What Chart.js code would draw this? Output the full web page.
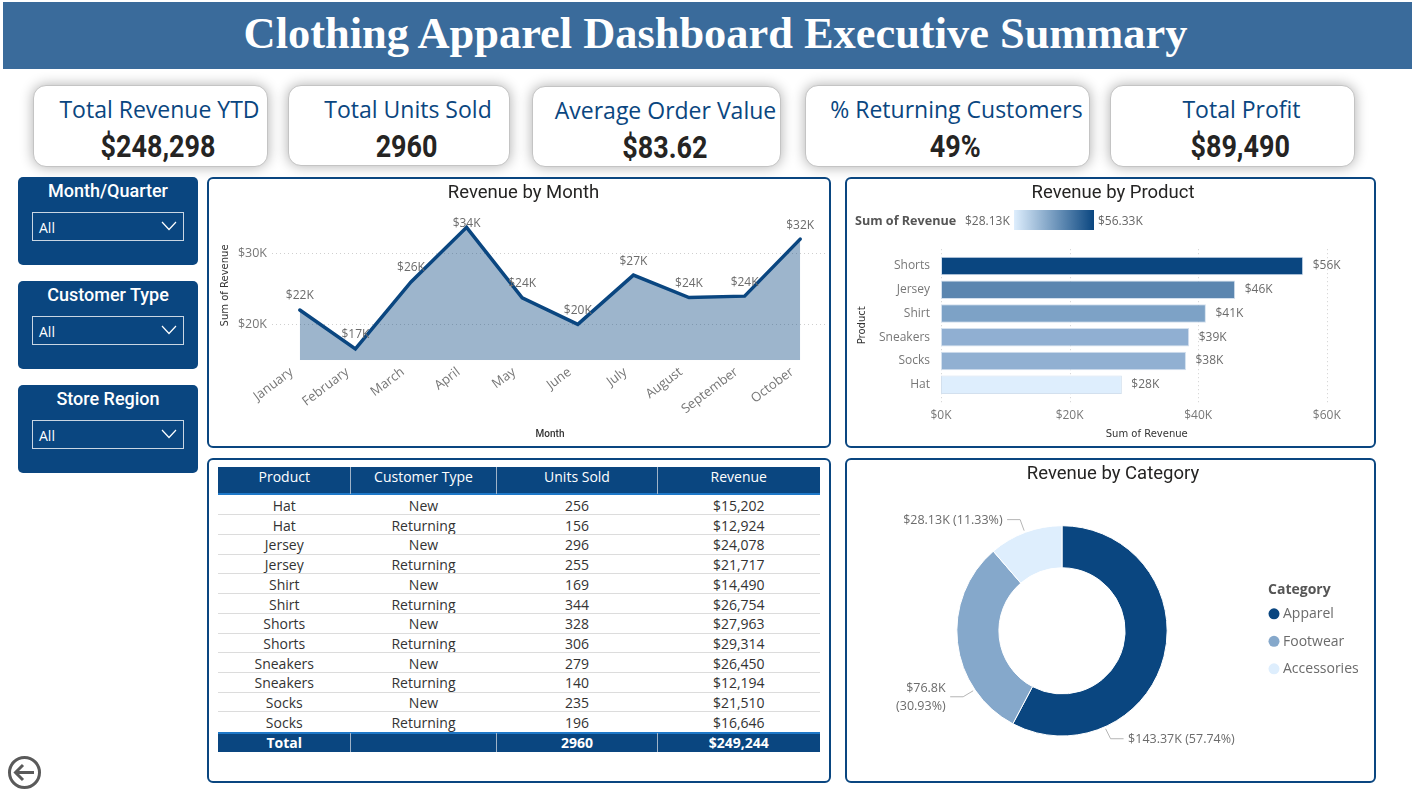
<!DOCTYPE html>
<html>
<head>
<meta charset="utf-8">
<script src="https://cdn.jsdelivr.net/npm/chart.js@4"></script>
<style>
html,body{margin:0;padding:0;background:#fff;width:1412px;height:802px;overflow:hidden}
body{position:relative;font-family:"Open Sans",sans-serif}
.abs{position:absolute;box-sizing:border-box}
#header{left:3px;top:2px;width:1409px;height:67px;background:#3A6B9B;color:#fff;font:bold 44.400px "Liberation Serif",serif;text-align:center;line-height:63px;padding-left:16px}
.kpi{background:#fff;border:1px solid #c4c4c4;border-radius:13px;box-shadow:0 0 13px rgba(0,0,0,.32);text-align:center}
.kpi .t{position:absolute;left:18px;right:0;top:8px;font:23px/30px "Open Sans",sans-serif;color:#0A4680;white-space:nowrap}
.kpi .v{position:absolute;left:16px;right:0;top:42px;font:bold 31px/38px Roboto,sans-serif;color:#252423}
.kpi .v span{display:inline-block;transform:scaleX(.87)}
.slicer{left:18px;width:180px;height:88px;background:#0A4680;border-radius:5px;color:#fff;text-align:center}
.slicer .t{position:absolute;left:0;right:0;top:3px;font:500 18px/22px Roboto,sans-serif}
.slicer .d{position:absolute;left:14px;top:35px;width:152px;height:29px;box-sizing:border-box;border:1px solid #C9D6E3;text-align:left;padding-left:6px;font:14px/29px "Open Sans",sans-serif}
.slicer svg{position:absolute;right:6px;top:7px}
.panel{background:#fff;border:2px solid #0A4680;border-radius:6px}
canvas{position:absolute;display:block}
.cell{position:absolute;text-align:center;font:14px/19.7px "Open Sans",sans-serif;color:#333;white-space:nowrap}
.legendText{position:absolute;font:12px/16px "Open Sans",sans-serif;color:#666;white-space:nowrap}
</style>
</head>
<body>
<div class="abs" id="header">Clothing Apparel Dashboard Executive Summary</div>
<div id="cards"></div>
<div id="slicers"></div>
<div class="abs panel" style="left:207px;top:177px;width:624px;height:271px"></div>
<div class="abs panel" style="left:845px;top:177px;width:531px;height:271px"></div>
<div class="abs panel" style="left:207px;top:458px;width:624px;height:325px"></div>
<div class="abs panel" style="left:845px;top:458px;width:531px;height:325px"></div>
<canvas id="monthChart" width="624" height="271" style="left:207px;top:177px"></canvas>
<canvas id="productChart" width="531" height="271" style="left:845px;top:177px"></canvas>
<canvas id="categoryChart" width="531" height="325" style="left:845px;top:458px"></canvas>
<div class="legendText" style="left:855px;top:213px;font-weight:bold;color:#555;font-size:12.600px">Sum of Revenue</div>
<div class="legendText" style="left:965px;top:213px">$28.13K</div>
<div class="abs" style="left:1014px;top:210px;width:80px;height:20px;background:linear-gradient(90deg,#DEEEFD,#0A4680)"></div>
<div class="legendText" style="left:1098px;top:213px">$56.33K</div>
<div id="table"></div>
<svg class="abs" style="left:7px;top:755px" width="36" height="36" viewBox="0 0 36 36" fill="none" stroke="#5a5a5a" stroke-width="3"><circle cx="17.5" cy="17.5" r="15"/><path d="M27 17.5H9M16 10l-7.500 7.500 7.500 7.500"/></svg>

<script>
const dark = '#0A4680';

const kpiTitles = ['Total Revenue YTD','Total Units Sold','Average Order Value','% Returning Customers','Total Profit'];
const kpiValues = ['$248,298','2960','$83.62','49%','$89,490'];
const slicerTitles = ['Month/Quarter','Customer Type','Store Region'];

const months = ['January','February','March','April','May','June','July','August','September','October'];
const monthRevenue = [22050,16600,26000,33650,23750,20050,26950,23800,24000,32000];
const monthTicks = [20000,30000];

const products = ['Shorts','Jersey','Shirt','Sneakers','Socks','Hat'];
const productRevenue = [56330,45750,41200,38600,38100,28130];
const productColors = ['#0A4680','#5B86B0','#7DA2C6','#90AFD2','#91B0D2','#DEEEFD'];
const productTicks = [0,20000,40000,60000];

const categories = ['Apparel','Footwear','Accessories'];
const categoryRevenue = [143370,76800,28130];
const categoryColors = ['#0A4680','#85A8CB','#DEEEFD'];
const categoryLabels = [['$143.37K (57.74%)'],['$76.8K','(30.93%)'],['$28.13K (11.33%)']];

const tableColumns = ['Product','Customer Type','Units Sold','Revenue'];
const tableProducts = ['Hat','Hat','Jersey','Jersey','Shirt','Shirt','Shorts','Shorts','Sneakers','Sneakers','Socks','Socks'];
const tableTypes = ['New','Returning','New','Returning','New','Returning','New','Returning','New','Returning','New','Returning'];
const tableUnits = ['256','156','296','255','169','344','328','306','279','140','235','196'];
const tableRevenue = ['$15,202','$12,924','$24,078','$21,717','$14,490','$26,754','$27,963','$29,314','$26,450','$12,194','$21,510','$16,646'];
const tableTotals = ['Total','','2960','$249,244'];

/* ---------- cards, slicers, table (page furniture) ---------- */
const cardBoxes = [[33,85,235,82],[288,85,222,81],[532,86,249,81],[805,85,285,82],[1110,85,245,82]];
document.getElementById('cards').innerHTML = kpiTitles.map((t,i)=>{
  const b = cardBoxes[i];
  return `<div class="abs kpi" style="left:${b[0]}px;top:${b[1]}px;width:${b[2]}px;height:${b[3]}px"><div class="t">${t}</div><div class="v"><span>${kpiValues[i]}</span></div></div>`;
}).join('');
const slicerTops = [177,281,385];
document.getElementById('slicers').innerHTML = slicerTitles.map((t,i)=>
  `<div class="abs slicer" style="top:${slicerTops[i]}px"><div class="t">${t}</div><div class="d">All<svg width="16" height="12" fill="none" stroke="#fff" stroke-width="1.200"><path d="M1 2l7 7.500 7-7.500"/></svg></div></div>`).join('');

const colEdges = [218,350.500,496.500,657.500,820];
const rowTop = 495, rowH = 19.72;
let html = '';
function addCell(text,col,top,h,css){
  html += `<div class="cell" style="left:${colEdges[col]}px;width:${colEdges[col+1]-colEdges[col]}px;top:${top}px;height:${h}px;${css||''}">${text}</div>`;
}
html += `<div class="abs" style="left:218px;top:467px;width:602px;height:28px;background:${dark};border-bottom:2px solid #1E78C8"></div>`;
tableColumns.forEach((c,i)=>addCell(c,i,467,20,'color:#fff;line-height:20px'));
tableProducts.forEach((p,r)=>{
  const top = rowTop + r*rowH;
  [p,tableTypes[r],tableUnits[r],tableRevenue[r]].forEach((v,c)=>addCell(v,c,top+1,rowH));
  if(r<11) html += `<div class="abs" style="left:218px;top:${top+rowH-.5}px;width:602px;height:1px;background:#dcdcdc"></div>`;
});
html += `<div class="abs" style="left:218px;top:731.500px;width:602px;height:20.500px;background:${dark};border-top:2px solid #1E78C8"></div>`;
tableTotals.forEach((v,i)=>addCell(v,i,733,20,'color:#fff;font-weight:bold'));
[1,2,3].forEach(i=>{
  html += `<div class="abs" style="left:${colEdges[i]-.5}px;top:467px;width:1px;height:27px;background:#9fb3c8"></div>`;
  html += `<div class="abs" style="left:${colEdges[i]-.5}px;top:733px;width:1px;height:19px;background:#9fb3c8"></div>`;
});
document.getElementById('table').innerHTML = html;

/* ---------- charts ---------- */
Chart.defaults.animation = false;
Chart.defaults.responsive = false;
Chart.defaults.font.family = '"Open Sans",sans-serif';

const kLabel = v => '$' + Math.round(v/1000) + 'K';
const grey = '#6b6b6b';

const titleOpts = (text,bottom) => ({display:true,text,color:'#252423',font:{family:'Roboto',size:18.5,weight:'400',lineHeight:1.2},padding:{top:5,bottom}});
const axisTitle = (text,family,weight) => ({display:true,text,color:'#333',font:{family,size:10,weight,lineHeight:1.2},padding:{top:0,bottom:0}});

/* a heading centred in the panel rather than over the offset plot */
const drawHeading = (chart,text) => {
  const ctx = chart.ctx;
  ctx.save();
  ctx.font = '18.5px Roboto'; ctx.fillStyle = '#252423'; ctx.textAlign = 'center'; ctx.textBaseline = 'middle';
  ctx.fillText(text,268,16.5);
  ctx.restore();
};

const monthLabels = {
  id:'monthLabels',
  afterDatasetsDraw(chart){
    const ctx = chart.ctx, meta = chart.getDatasetMeta(0), minY = chart.chartArea.top + 13;
    ctx.save();
    ctx.font = '12px "Open Sans"'; ctx.fillStyle = grey; ctx.textAlign = 'center'; ctx.textBaseline = 'middle';
    meta.data.forEach((p,i)=>ctx.fillText(kLabel(monthRevenue[i]),p.x,Math.max(p.y-14,minY)));
    ctx.restore();
  }
};
new Chart(document.getElementById('monthChart'),{
  type:'line',
  data:{labels:months,datasets:[{data:monthRevenue,borderColor:dark,borderWidth:3.5,backgroundColor:'rgba(10,70,128,.4)',fill:'start',tension:0,pointRadius:0,borderCapStyle:'round',borderJoinStyle:'miter'}]},
  options:{
    layout:{padding:{left:12,right:3,top:0,bottom:8}},
    plugins:{legend:{display:false},tooltip:{enabled:false},title:titleOpts('Revenue by Month',6.400)},
    scales:{
      x:{offset:true,grid:{display:false,drawTicks:false},border:{display:false},
         ticks:{color:'#777',font:{size:13},maxRotation:37,minRotation:37,autoSkip:false,padding:4,labelOffset:-8},
         title:axisTitle('Month','Roboto','500'),afterFit(s){s.height=79.7}},
      y:{min:15000,max:36000,grid:{color:'#cfcfcf',drawTicks:false,lineWidth:1},border:{display:false,dash:[1,3]},
         ticks:{color:'#777',font:{size:12.5},padding:5,callback:kLabel},
         afterBuildTicks(s){s.ticks=monthTicks.map(value=>({value}))},
         title:axisTitle('Sum of Revenue','DejaVu Sans','400'),afterFit(s){s.width=53}}
    }
  },
  plugins:[monthLabels]
});

const productDecor = {
  id:'productDecor',
  beforeDatasetsDraw(chart){
    const ctx = chart.ctx, a = chart.chartArea, x = chart.scales.x;
    ctx.save();
    ctx.strokeStyle = '#cfcfcf'; ctx.setLineDash([1,3]); ctx.lineWidth = 1;
    productTicks.forEach(v=>{
      const px = Math.round(x.getPixelForValue(v))+.5;
      ctx.beginPath(); ctx.moveTo(px,a.top-5); ctx.lineTo(px,a.bottom+7); ctx.stroke();
    });
    ctx.restore();
  },
  afterDatasetsDraw(chart){
    const ctx = chart.ctx, meta = chart.getDatasetMeta(0);
    ctx.save();
    ctx.font = '12px "Open Sans"'; ctx.fillStyle = grey; ctx.textBaseline = 'middle';
    meta.data.forEach((b,i)=>ctx.fillText(kLabel(productRevenue[i]),b.x+9.5,b.y));
    ctx.restore();
    drawHeading(chart,'Revenue by Product');
  }
};
new Chart(document.getElementById('productChart'),{
  type:'bar',
  data:{labels:products,datasets:[{data:productRevenue,backgroundColor:productColors,borderColor:'#D3E0EE',borderWidth:1,borderSkipped:false,categoryPercentage:1,barPercentage:.78}]},
  options:{
    indexAxis:'y',
    layout:{padding:{left:11,right:23.500,top:77.200,bottom:8}},
    plugins:{legend:{display:false},tooltip:{enabled:false},title:{display:false}},
    scales:{
      x:{min:0,max:64000,grid:{display:false},border:{display:false},
         ticks:{color:'#777',font:{size:12},padding:3.500,maxRotation:0,callback:kLabel},
         afterBuildTicks(s){s.ticks=productTicks.map(value=>({value}))},
         title:axisTitle('Sum of Revenue','DejaVu Sans','400'),afterFit(s){s.height=43.500}},
      y:{grid:{display:false},border:{display:false},
         ticks:{color:'#777',font:{size:12},padding:3},
         title:axisTitle('Product','DejaVu Sans','400'),afterFit(s){s.width=85}}
    }
  },
  plugins:[productDecor]
});

/* leader lines leave the ring at these clockwise angles from the top */
const calloutAngles = [156,236,339.300];
const calloutElbows = [[5,10,13,1],[-10,6,-13,-1],[-4,-11,-13,-1]];
const categoryDecor = {
  id:'categoryDecor',
  afterDatasetsDraw(chart){
    const ctx = chart.ctx, arc = chart.getDatasetMeta(0).data[0];
    ctx.save();
    ctx.font = '12.5px "Open Sans"'; ctx.textBaseline = 'middle';
    categoryLabels.forEach((lines,i)=>{
      const t = calloutAngles[i]*Math.PI/180, e = calloutElbows[i];
      const sx = arc.x + (arc.outerRadius+2)*Math.sin(t), sy = arc.y - (arc.outerRadius+2)*Math.cos(t);
      const mx = sx+e[0], my = sy+e[1], ex = mx+e[2];
      ctx.strokeStyle = '#b5b5b5'; ctx.lineWidth = 1;
      ctx.beginPath(); ctx.moveTo(sx,sy); ctx.lineTo(mx,my); ctx.lineTo(ex,my); ctx.stroke();
      ctx.fillStyle = grey; ctx.textAlign = e[3]>0 ? 'left' : 'right';
      const tx = ex + e[3]*4.500;
      lines.forEach((l,k)=>ctx.fillText(l,tx,my + (k-(lines.length-1)/2)*18 + .5));
    });
    /* legend */
    const lx = arc.x + 212, topY = arc.y - 41;
    ctx.textAlign = 'left';
    ctx.font = 'bold 14px "Open Sans"'; ctx.fillStyle = '#555';
    ctx.fillText('Category',lx-6,topY);
    ctx.font = '14px "Open Sans"';
    categories.forEach((c,i)=>{
      const y = topY + 24 + i*27.5;
      ctx.fillStyle = categoryColors[i];
      ctx.beginPath(); ctx.arc(lx,y,5.5,0,Math.PI*2); ctx.fill();
      ctx.fillStyle = grey;
      ctx.fillText(c,lx+9,y+.5);
    });
    ctx.restore();
    drawHeading(chart,'Revenue by Category');
  }
};
new Chart(document.getElementById('categoryChart'),{
  type:'doughnut',
  data:{labels:categories,datasets:[{data:categoryRevenue,backgroundColor:categoryColors,borderColor:'#fff',borderWidth:1}]},
  options:{
    cutout:'60%',rotation:0,
    layout:{padding:{left:0,right:97,top:67.200,bottom:46.500}},
    plugins:{tooltip:{enabled:false},title:{display:false},legend:{display:false}}
  },
  plugins:[categoryDecor]
});
</script>
</body>
</html>
